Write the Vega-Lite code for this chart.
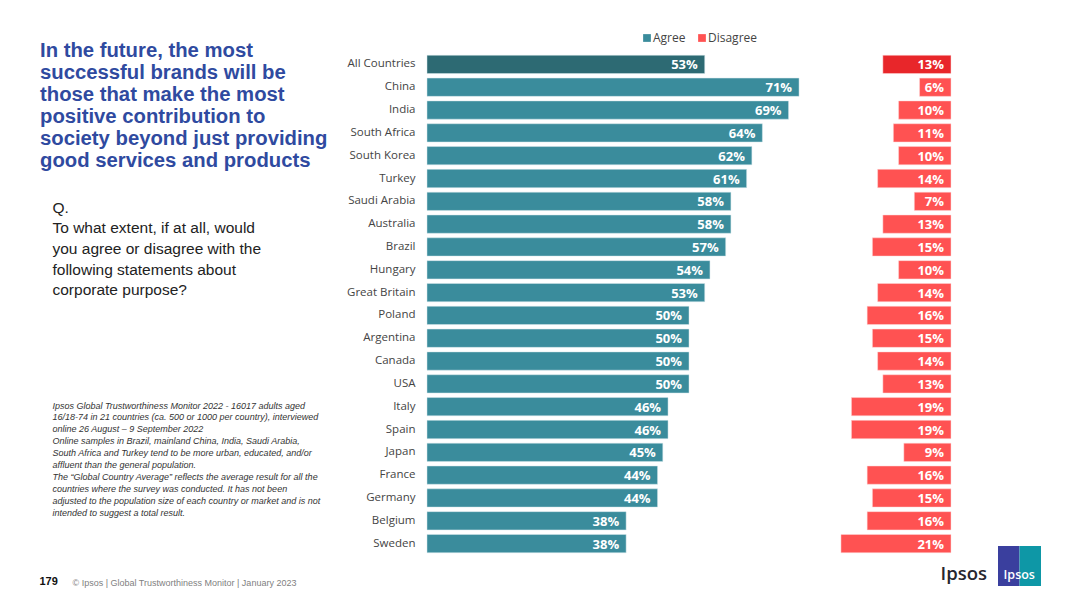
{
  "$schema": "https://vega.github.io/schema/vega-lite/v6.json",
  "width": 524,
  "height": 502,
  "autosize": "none",
  "padding": {"left": 427, "top": 53, "right": 129, "bottom": 52},
  "background": "white",
  "title": {
    "text": ["In the future, the most", "successful brands will be", "those that make the most", "positive contribution to", "society beyond just providing", "good services and products"],
    "anchor": "start",
    "frame": "group",
    "orient": "top",
    "offset": 0,
    "dx": -387,
    "dy": 139,
    "baseline": "top",
    "font": "Liberation Sans",
    "fontSize": 20.3,
    "fontWeight": "bold",
    "color": "#2F4AA0",
    "lineHeight": 22
  },
  "datasets": {
    "responses": [
      {"country": "All Countries", "response": "Agree", "share": 0.53},
      {"country": "China", "response": "Agree", "share": 0.71},
      {"country": "India", "response": "Agree", "share": 0.69},
      {"country": "South Africa", "response": "Agree", "share": 0.64},
      {"country": "South Korea", "response": "Agree", "share": 0.62},
      {"country": "Turkey", "response": "Agree", "share": 0.61},
      {"country": "Saudi Arabia", "response": "Agree", "share": 0.58},
      {"country": "Australia", "response": "Agree", "share": 0.58},
      {"country": "Brazil", "response": "Agree", "share": 0.57},
      {"country": "Hungary", "response": "Agree", "share": 0.54},
      {"country": "Great Britain", "response": "Agree", "share": 0.53},
      {"country": "Poland", "response": "Agree", "share": 0.50},
      {"country": "Argentina", "response": "Agree", "share": 0.50},
      {"country": "Canada", "response": "Agree", "share": 0.50},
      {"country": "USA", "response": "Agree", "share": 0.50},
      {"country": "Italy", "response": "Agree", "share": 0.46},
      {"country": "Spain", "response": "Agree", "share": 0.46},
      {"country": "Japan", "response": "Agree", "share": 0.45},
      {"country": "France", "response": "Agree", "share": 0.44},
      {"country": "Germany", "response": "Agree", "share": 0.44},
      {"country": "Belgium", "response": "Agree", "share": 0.38},
      {"country": "Sweden", "response": "Agree", "share": 0.38},
      {"country": "All Countries", "response": "Disagree", "share": 0.13},
      {"country": "China", "response": "Disagree", "share": 0.06},
      {"country": "India", "response": "Disagree", "share": 0.10},
      {"country": "South Africa", "response": "Disagree", "share": 0.11},
      {"country": "South Korea", "response": "Disagree", "share": 0.10},
      {"country": "Turkey", "response": "Disagree", "share": 0.14},
      {"country": "Saudi Arabia", "response": "Disagree", "share": 0.07},
      {"country": "Australia", "response": "Disagree", "share": 0.13},
      {"country": "Brazil", "response": "Disagree", "share": 0.15},
      {"country": "Hungary", "response": "Disagree", "share": 0.10},
      {"country": "Great Britain", "response": "Disagree", "share": 0.14},
      {"country": "Poland", "response": "Disagree", "share": 0.16},
      {"country": "Argentina", "response": "Disagree", "share": 0.15},
      {"country": "Canada", "response": "Disagree", "share": 0.14},
      {"country": "USA", "response": "Disagree", "share": 0.13},
      {"country": "Italy", "response": "Disagree", "share": 0.19},
      {"country": "Spain", "response": "Disagree", "share": 0.19},
      {"country": "Japan", "response": "Disagree", "share": 0.09},
      {"country": "France", "response": "Disagree", "share": 0.16},
      {"country": "Germany", "response": "Disagree", "share": 0.15},
      {"country": "Belgium", "response": "Disagree", "share": 0.16},
      {"country": "Sweden", "response": "Disagree", "share": 0.21}
    ],
    "logo": [{"part": "left"}, {"part": "right"}]
  },
  "layer": [
    {
      "data": {"name": "responses"},
      "transform": [{"filter": "datum.response == 'Agree'"}],
      "encoding": {
        "y": {
          "field": "country",
          "type": "nominal",
          "sort": null,
          "scale": {"paddingInner": 0.2, "paddingOuter": 0.1},
          "axis": {
            "domain": false,
            "ticks": false,
            "labelPadding": 12,
            "labelFont": "Open Sans",
            "labelFontSize": 11.5,
            "labelColor": "#444444",
            "title": ["Ipsos Global Trustworthiness Monitor 2022 - 16017 adults aged", "16/18-74 in 21 countries (ca. 500 or 1000 per country), interviewed", "online 26 August – 9 September 2022", "Online samples in Brazil, mainland China, India, Saudi Arabia,", "South Africa and Turkey tend to be more urban, educated, and/or", "affluent than the general population.", "The “Global Country Average” reflects the average result for all the", "countries where the survey was conducted. It has not been", "adjusted to the population size of each country or market and is not", "intended to suggest a total result."],
            "titleAngle": 0,
            "titleAlign": "left",
            "titleBaseline": "top",
            "titleX": -375,
            "titleY": 348,
            "titleFont": "Liberation Sans",
            "titleFontSize": 9,
            "titleFontStyle": "italic",
            "titleFontWeight": "normal",
            "titleColor": "#333333",
            "titleLineHeight": 11.9
          }
        },
        "x": {
          "field": "share",
          "type": "quantitative",
          "scale": {"domain": [0, 1]},
          "axis": {
            "domain": false,
            "ticks": false,
            "labels": false,
            "grid": false,
            "title": "© Ipsos | Global Trustworthiness Monitor | January 2023",
            "titleAnchor": "start",
            "titleAlign": "left",
            "titleBaseline": "middle",
            "titleX": -355,
            "titleY": 27,
            "titleFont": "Liberation Sans",
            "titleFontSize": 9,
            "titleFontWeight": "normal",
            "titleColor": "#7F7F7F"
          }
        }
      },
      "layer": [
        {
          "mark": {"type": "bar", "stroke": "#D5E6EA", "strokeWidth": 0.5},
          "encoding": {
            "color": {
              "condition": {"test": "datum.country == 'All Countries'", "value": "#2D6A73"},
              "field": "response",
              "type": "nominal",
              "scale": {"domain": ["Agree", "Disagree"], "range": ["#3A8C9C", "#FF5252"]},
              "legend": {
                "title": null,
                "orient": "none",
                "legendX": 214,
                "legendY": -21,
                "direction": "horizontal",
                "symbolType": "square",
                "symbolSize": 60,
                "symbolStrokeWidth": 0,
                "labelFont": "Open Sans",
                "labelFontSize": 12,
                "labelColor": "#444444",
                "columnPadding": 10,
                "labelOffset": 0
              }
            }
          }
        },
        {
          "mark": {"type": "text", "align": "right", "dx": -7, "dy": 1, "font": "Open Sans", "fontWeight": "bold", "fontSize": 13, "color": "#FFFFFF"},
          "encoding": {"text": {"field": "share", "type": "quantitative", "format": ".0%"}}
        }
      ]
    },
    {
      "data": {"name": "responses"},
      "transform": [{"filter": "datum.response == 'Disagree'"}],
      "encoding": {
        "y": {
          "field": "country",
          "type": "nominal",
          "sort": null,
          "scale": {"paddingInner": 0.2, "paddingOuter": 0.1},
          "axis": {
            "orient": "left",
            "domain": false,
            "ticks": false,
            "labels": false,
            "title": ["Q.", "To what extent, if at all, would", "you agree or disagree with the", "following statements about", "corporate purpose?"],
            "titleAngle": 0,
            "titleAlign": "left",
            "titleBaseline": "top",
            "titleX": -375,
            "titleY": 147,
            "titleFont": "Liberation Sans",
            "titleFontSize": 15.5,
            "titleFontWeight": "normal",
            "titleColor": "#222222",
            "titleLineHeight": 20.7
          }
        },
        "x": {
          "field": "share",
          "type": "quantitative",
          "scale": {"domain": [0, 1], "reverse": true},
          "axis": {
            "domain": false,
            "ticks": false,
            "labels": false,
            "grid": false,
            "title": "179",
            "titleAnchor": "start",
            "titleAlign": "left",
            "titleBaseline": "middle",
            "titleX": -388,
            "titleY": 528,
            "titleFont": "Liberation Sans",
            "titleFontSize": 11,
            "titleFontWeight": "bold",
            "titleColor": "#111111"
          }
        }
      },
      "layer": [
        {
          "mark": {"type": "bar", "stroke": "#FFD9D9", "strokeWidth": 0.5},
          "encoding": {
            "color": {
              "condition": {"test": "datum.country == 'All Countries'", "value": "#E8262A"},
              "field": "response",
              "type": "nominal",
              "scale": {"domain": ["Agree", "Disagree"], "range": ["#3A8C9C", "#FF5252"]}
            }
          }
        },
        {
          "mark": {"type": "text", "align": "right", "dx": -7, "dy": 1, "font": "Open Sans", "fontWeight": "bold", "fontSize": 13, "color": "#FFFFFF"},
          "encoding": {
            "x": {"datum": 0, "type": "quantitative", "scale": {"domain": [0, 1], "reverse": true}},
            "text": {"field": "share", "type": "quantitative", "format": ".0%"}
          }
        }
      ]
    },
    {
      "data": {"name": "logo"},
      "encoding": {
        "x": {"field": "part", "type": "nominal", "scale": {"range": [571, 614], "padding": 0}, "axis": null},
        "y": {"datum": "logo", "type": "nominal", "scale": {"range": [493, 533], "padding": 0}, "axis": null}
      },
      "layer": [
        {
          "mark": {"type": "bar"},
          "encoding": {
            "color": {"condition": {"test": "datum.part == 'left'", "value": "#3A3F9E"}, "value": "#0E97A6"}
          }
        },
        {
          "transform": [{"filter": "datum.part == 'right'"}],
          "mark": {"type": "text", "dx": -11, "dy": 9, "font": "Open Sans", "fontSize": 12.5, "fontWeight": 600, "color": "#FFFFFF"},
          "encoding": {"text": {"datum": "Ipsos"}}
        },
        {
          "transform": [{"filter": "datum.part == 'left'"}],
          "mark": {"type": "text", "dx": -45, "dy": 8, "font": "Open Sans", "fontSize": 18.5, "fontWeight": 600, "color": "#26262E"},
          "encoding": {"text": {"datum": "Ipsos"}}
        }
      ]
    }
  ],
  "resolve": {
    "scale": {"x": "independent", "y": "independent"},
    "axis": {"x": "independent", "y": "independent"}
  },
  "config": {"view": {"stroke": null}}
}
